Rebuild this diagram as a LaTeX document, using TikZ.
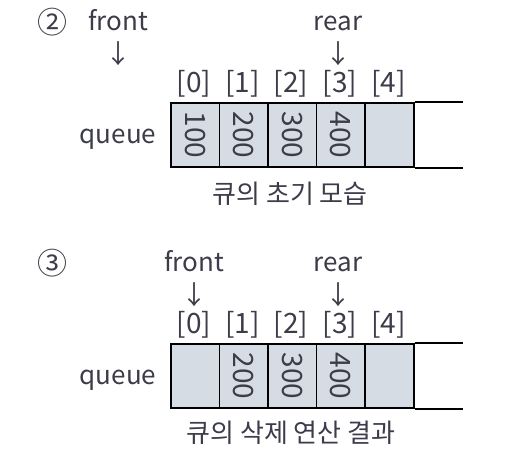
\documentclass[tikz,border=0pt]{standalone}
\usepackage{fontspec}
\setmainfont{Noto Sans CJK KR}
\definecolor{txtgray}{HTML}{3C3C4A}
\definecolor{cellfill}{HTML}{D6DCE4}

\tikzset{
  lbl/.style={text=txtgray, font=\fontsize{26}{30}\selectfont, inner sep=0pt, anchor=base},
  idx/.style={lbl, font=\fontsize{28}{32}\selectfont},
  circnum/.style={lbl, anchor=center, font=\fontsize{30}{34}\selectfont},
  val/.style={lbl, anchor=center, rotate=-90, font=\fontsize{28}{32}\selectfont},
  cell/.style={draw=black, line width=1.6pt, fill=cellfill, minimum width=48.6pt,
    minimum height=64pt, inner sep=0pt, anchor=west},
}

\begin{document}
\begin{tikzpicture}[x=1pt,y=-1pt]
\useasboundingbox (0,0) rectangle (524,458);
% initial queue
\node[circnum] (numa) at (52,22) {②};
\node[lbl] (fronta) at (118,30) {front};
\node[lbl, anchor=center] (farrowa) at (118,54) {↓};
\node[lbl] (reara) at (338,30) {rear};
\node[lbl, anchor=center] (rarrowa) at (338,54) {↓};
\foreach \i in {0,...,4}
  \node[idx] (idxa\i) at (194+48.6*\i,92) {[\i]};
\node[lbl] (queuea) at (118,143) {queue};
\foreach \v [count=\i from 0] in {100,200,300,400,{}} {
  \node[cell] (qa\i) at (170+48.6*\i,135) {};
  \node[val] (va\i) at (qa\i) {\v};
}
\draw[line width=1.6pt] (qa4.north east) -- ++(48,0);
\draw[line width=1.6pt] (qa4.south east) -- ++(48,0);
\node[lbl] (capa) at (290,203) {큐의 초기 모습};

% after delete
\node[circnum] (numb) at (52,263) {③};
\node[lbl] (frontb) at (194,271) {front};
\node[lbl, anchor=center] (farrowb) at (194,295) {↓};
\node[lbl] (rearb) at (338,271) {rear};
\node[lbl, anchor=center] (rarrowb) at (338,295) {↓};
\foreach \i in {0,...,4}
  \node[idx] (idxb\i) at (194+48.6*\i,333) {[\i]};
\node[lbl] (queueb) at (118,384) {queue};
\foreach \v [count=\i from 0] in {{},200,300,400,{}} {
  \node[cell] (qb\i) at (170+48.6*\i,376) {};
  \node[val] (vb\i) at (qb\i) {\v};
}
\draw[line width=1.6pt] (qb4.north east) -- ++(48,0);
\draw[line width=1.6pt] (qb4.south east) -- ++(48,0);
\node[lbl] (capb) at (291,442) {큐의 삭제 연산 결과};
\end{tikzpicture}
\end{document}
